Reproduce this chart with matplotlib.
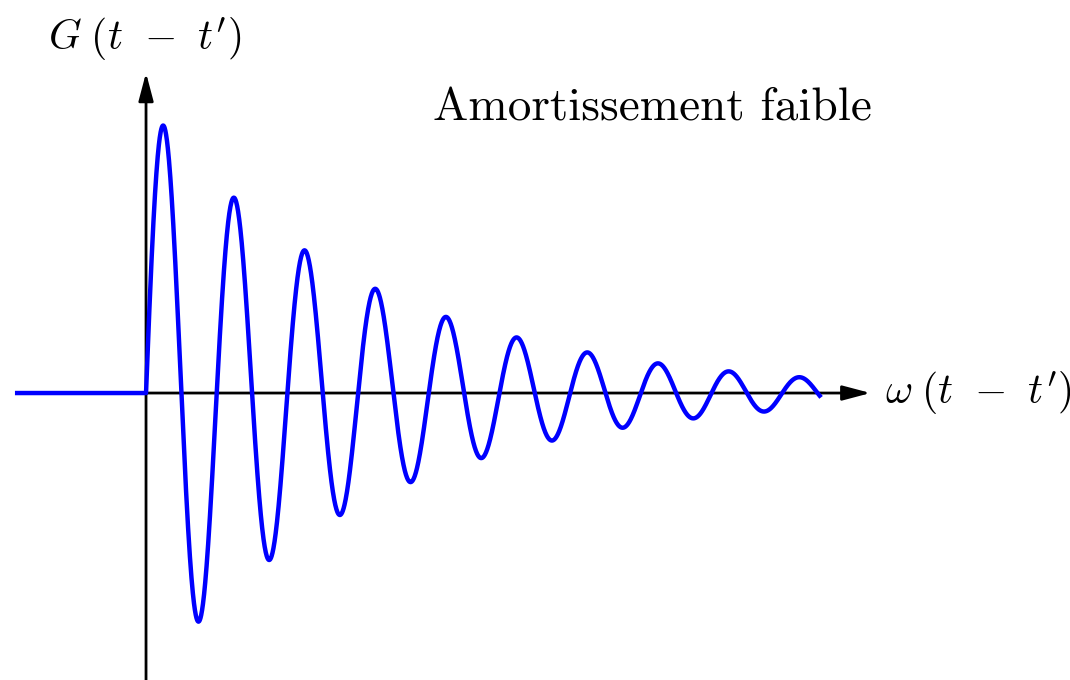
import numpy as np
import matplotlib
matplotlib.use("Agg")
import matplotlib.pyplot as plt

plt.rcParams['mathtext.fontset'] = 'cm'

# curve parameters (x in units of omega*t)
damping = 0.05          # decay rate per radian
amplitude = 1.0
x_end = 60.0            # end of the oscillating curve
x_start = -11.65        # left end of the flat part
n_pts = 3000

title_text = "Amortissement faible"
ylabel_text = r"$G\;(t\;\,\,{-}\;\;t')$"
xlabel_text = r"$\omega\;(t\;\,\,{-}\;\;t')$"

fig = plt.figure(figsize=(10.7, 6.8), dpi=100)
ax = fig.add_axes([0, 0, 1, 1])
ax.set_xlim(-12.98, 82.13)
ax.set_ylim(-0.993, 1.36)
ax.axis('off')

# axes with arrows
ax.annotate('', xy=(64.4, 0), xytext=(0, 0),
            arrowprops=dict(arrowstyle='-|>,head_length=1.7,head_width=0.45',
                            lw=2, color='black', shrinkA=0, shrinkB=0))
ax.annotate('', xy=(0, 1.108), xytext=(0, -1.0),
            arrowprops=dict(arrowstyle='-|>,head_length=1.7,head_width=0.45',
                            lw=2, color='black', shrinkA=0, shrinkB=0))

x_neg = np.array([x_start, 0.0])
g_neg = np.zeros_like(x_neg)
x_pos = np.linspace(0, x_end, n_pts)
g_pos = amplitude * np.exp(-damping * x_pos) * np.sin(x_pos)
xs = np.concatenate([x_neg, x_pos])
gs = np.concatenate([g_neg, g_pos])
ax.plot(xs, gs, color='#0000ff', lw=3.2, solid_capstyle='butt', zorder=3)

ax.text(-0.1, 1.225, ylabel_text, fontsize=30, ha='center', va='center')
ax.text(65.7, 0.0, xlabel_text, fontsize=30, ha='left', va='center')
ax.text(45.0, 0.985, title_text, fontsize=34, ha='center', va='center',
        family='cmr10')

fig.savefig('out.png', dpi=100)
